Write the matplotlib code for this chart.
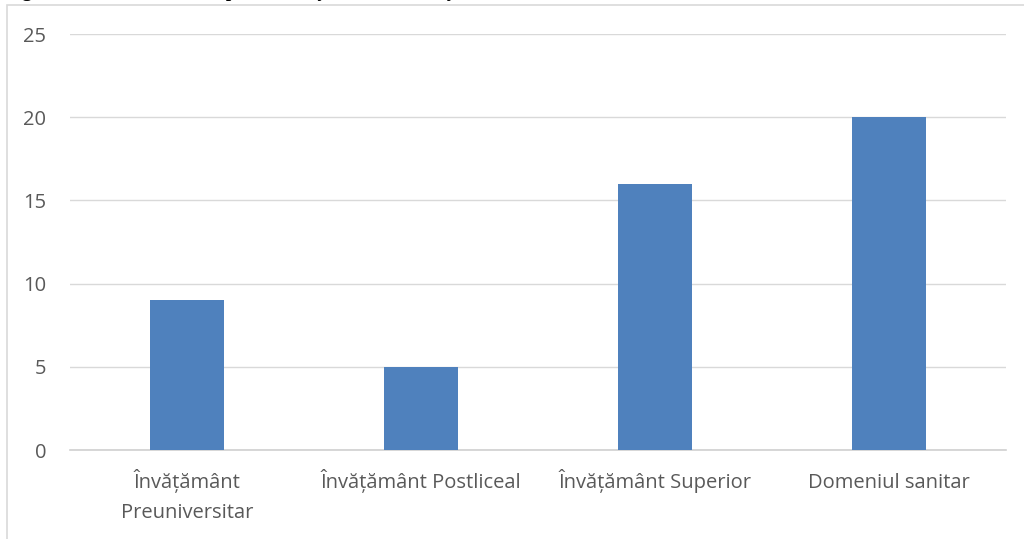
import matplotlib
matplotlib.use("Agg")
import matplotlib.pyplot as plt
import matplotlib.transforms as mtransforms
from matplotlib.patches import Rectangle

# date din grafic
categorii = ["Învățământ\nPreuniversitar", "Învățământ Postliceal",
             "Învățământ Superior", "Domeniul sanitar"]
valori = [9, 5, 16, 20]
y_ticks = [0, 5, 10, 15, 20, 25]
titlu = "Fig. 2. The structure of respondents by field of activity"

plt.rcParams['font.family'] = ['Open Sans', 'DejaVu Sans']

fig = plt.figure(figsize=(10.24, 5.39), dpi=100)
fig.patch.set_facecolor("white")

# chenarul graficului (taiat la dreapta si jos)
fig.patches.append(Rectangle((7 / 1024, -0.1), 1.2, 1 - 5 / 539 + 0.1,
                             transform=fig.transFigure, fill=False,
                             edgecolor="#d9d9d9", linewidth=1.2))

# titlul taiat sus, se vede doar partea de jos
fig.text(5 / 1024, 1 + 3 / 539, titlu, ha="left", va="baseline",
         fontsize=14, fontweight="bold", family="Liberation Serif")

ax = fig.add_axes([70 / 1024, 1 - 450 / 539, 936 / 1024, (450 - 34) / 539])
x = list(range(len(categorii)))
ax.bar(x, valori, width=0.316, color="#4f81bd", zorder=3)

ax.set_xlim(-0.5, len(categorii) - 0.5)
ax.set_ylim(0, 25)
ax.set_yticks(y_ticks)
ax.set_xticks(x)
ax.set_xticklabels([])
ax.grid(axis="y", color="#d9d9d9", linewidth=1.0, zorder=0)
for s in ["top", "right", "left"]:
    ax.spines[s].set_visible(False)
ax.spines["bottom"].set_color("#d0d0d0")
ax.spines["bottom"].set_linewidth(1.2)
ax.tick_params(axis="both", length=0, labelsize=14.5, colors="#595959")
ax.tick_params(axis="y", pad=17)

# etichetele categoriilor, aliniate pe linia de baza
base = ax.get_xaxis_transform()
for xi, cat in zip(x, categorii):
    for k, line in enumerate(cat.split("\n")):
        off = mtransforms.ScaledTranslation(0, -(38 + 30 * k) / 100, fig.dpi_scale_trans)
        ax.text(xi, 0, line, transform=base + off, ha="center", va="baseline",
                fontsize=14.5, color="#595959")

fig.savefig("out.png", dpi=100)
